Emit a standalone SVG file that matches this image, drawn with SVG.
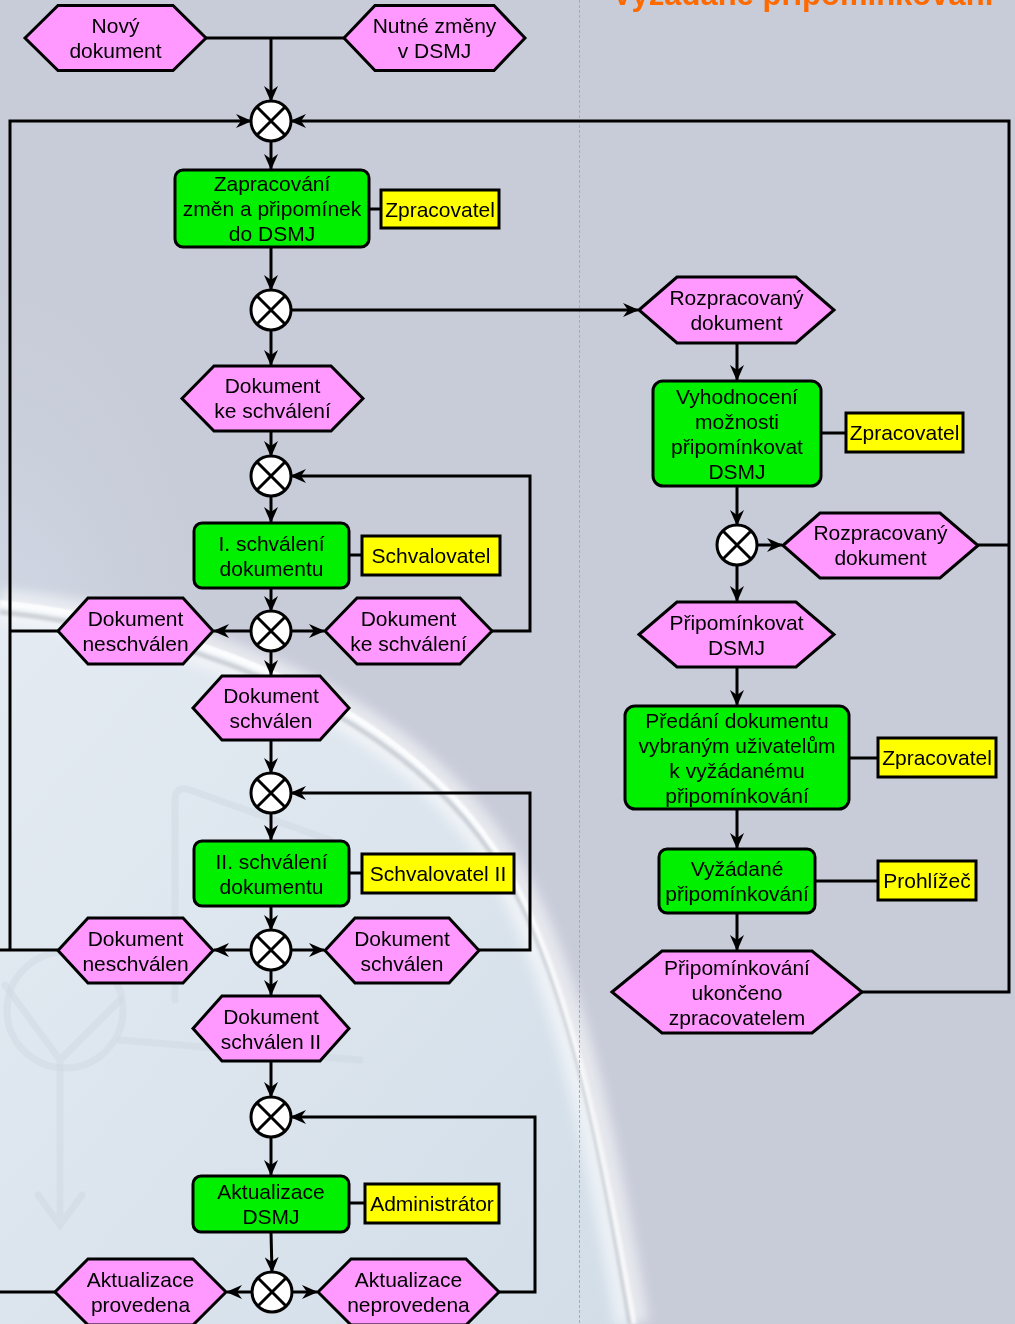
<svg xmlns="http://www.w3.org/2000/svg" width="1015" height="1324" viewBox="0 0 1015 1324">
  <defs>
    <style>
      .proc { fill: #00f000; stroke: #000; stroke-width: 3; }
      .ev { fill: #ff99ff; stroke: #000; stroke-width: 3; stroke-linejoin: miter; }
      .role { fill: #ffff00; stroke: #000; stroke-width: 3; }
      .xor circle { fill: #fff; stroke: #000; stroke-width: 3; }
      .xor path { stroke: #000; stroke-width: 3; fill: none; }
      .lbl { font-family: "Liberation Sans", Arial, sans-serif; font-size: 21px; fill: #000; text-anchor: middle; }
      .edge { fill: none; stroke: #000; stroke-width: 3; stroke-linejoin: miter; }
      .arr { marker-end: url(#ah); }
      .deco { fill: none; stroke: #b9c3cd; stroke-width: 7; opacity: 0.45; stroke-linecap: round; }
    </style>
    <marker id="ah" viewBox="0 0 16 14" refX="15" refY="7" markerWidth="16" markerHeight="14" markerUnits="userSpaceOnUse" orient="auto">
      <path d="M0,0 L16,7 L0,14 L5,7 Z" fill="#000"/>
    </marker>
    <linearGradient id="globeFill" x1="0" y1="0" x2="1" y2="1">
      <stop offset="0" stop-color="#e4ebf2"/>
      <stop offset="0.55" stop-color="#dbe4ed"/>
      <stop offset="1" stop-color="#d2dde8"/>
    </linearGradient>
    <radialGradient id="leftGlow" cx="0" cy="0.55" r="0.6">
      <stop offset="0" stop-color="#d7e1ec" stop-opacity="0.9"/>
      <stop offset="1" stop-color="#c8ccd9" stop-opacity="0"/>
    </radialGradient>
    <filter id="soft" x="-20%" y="-20%" width="140%" height="140%">
      <feGaussianBlur stdDeviation="6"/>
    </filter>
    <filter id="soft2" x="-20%" y="-20%" width="140%" height="140%">
      <feGaussianBlur stdDeviation="1.5"/>
    </filter>
  </defs>

  <!-- backdrop: grey-blue page with a pale globe in the lower left -->
  <rect x="0" y="0" width="1015" height="1324" fill="#c8ccd9"/>
  <rect x="0" y="250" width="420" height="900" fill="url(#leftGlow)"/>
  <path d="M0,600 C230,625 430,720 515,880 C575,995 605,1160 630,1324 L0,1324 Z" fill="url(#globeFill)"/>
  <path d="M0,606 C230,631 430,726 515,886 C575,1001 605,1166 632,1324" fill="none" stroke="#ffffff" stroke-width="34" opacity="0.55" filter="url(#soft)"/>
  <path d="M0,612 C230,637 430,732 515,892 C575,1007 605,1172 630,1324" fill="none" stroke="#a9afb8" stroke-width="5" opacity="0.5" filter="url(#soft2)"/>
  <path d="M0,603 C230,628 430,723 515,883 C575,998 605,1163 634,1324" fill="none" stroke="#ffffff" stroke-width="5" opacity="0.8" filter="url(#soft2)"/>
  <g opacity="0.4">
    <circle class="deco" cx="65" cy="1010" r="58"/>
    <path class="deco" d="M5,985 L60,1060 L120,1000 M60,1060 L60,1225 M38,1195 L60,1225 L82,1195"/>
    <path class="deco" d="M175,1000 L175,800 Q175,785 190,790 L330,840"/>
    <path class="deco" d="M120,1040 L360,1060"/>
  </g>

  <!-- swimlane divider and heading -->
  <line x1="579.5" y1="0" x2="579.5" y2="1324" stroke="#e89a60" stroke-width="1" stroke-dasharray="3,2"/>
  <text x="612" y="5" font-family="'Liberation Sans', Arial, sans-serif" font-size="31" font-weight="bold" fill="#ff6a00">Vyžádané připomínkování</text>

  <!-- connectors -->
  <g id="connectors">
    <path class="edge" d="M206,38 L344,38"/>
    <path class="edge arr" d="M271,38 L271,101"/>
    <path class="edge arr" d="M271,141 L271,169"/>
    <path class="edge arr" d="M271,247 L271,290"/>
    <path class="edge arr" d="M291,310 L638,310"/>
    <path class="edge arr" d="M271,330 L271,365"/>
    <path class="edge arr" d="M271,431 L271,456"/>
    <path class="edge arr" d="M271,496 L271,522"/>
    <path class="edge arr" d="M271,588 L271,611"/>
    <path class="edge arr" d="M251,631 L214,631"/>
    <path class="edge arr" d="M291,631 L324,631"/>
    <path class="edge arr" d="M492,631 L530,631 L530,476 L291,476"/>
    <path class="edge arr" d="M271,651 L271,675"/>
    <path class="edge arr" d="M271,740 L271,773"/>
    <path class="edge arr" d="M271,813 L271,840"/>
    <path class="edge arr" d="M271,906 L271,930"/>
    <path class="edge arr" d="M251,950 L214,950"/>
    <path class="edge arr" d="M291,950 L324,950"/>
    <path class="edge arr" d="M479,950 L530,950 L530,793 L291,793"/>
    <path class="edge arr" d="M271,970 L271,995"/>
    <path class="edge arr" d="M271,1061 L271,1097"/>
    <path class="edge arr" d="M271,1137 L271,1175"/>
    <path class="edge arr" d="M271,1232 L272,1272"/>
    <path class="edge arr" d="M252,1292 L227,1292"/>
    <path class="edge arr" d="M292,1292 L317,1292"/>
    <path class="edge arr" d="M499,1292 L535,1292 L535,1117 L291,1117"/>
    <path class="edge" d="M55,1292 L0,1292"/>
    <path class="edge" d="M58,631 L10,631"/>
    <path class="edge arr" d="M58,950 L0,950 M10,950 L10,121 L251,121"/>
    <path class="edge arr" d="M737,343 L737,380"/>
    <path class="edge arr" d="M737,486 L737,525"/>
    <path class="edge arr" d="M757,545 L782,545"/>
    <path class="edge arr" d="M737,565 L737,601"/>
    <path class="edge arr" d="M737,667 L737,705"/>
    <path class="edge arr" d="M737,809 L737,848"/>
    <path class="edge arr" d="M737,913 L737,950"/>
    <path class="edge" d="M978,545 L1009,545"/>
    <path class="edge arr" d="M862,992 L1009,992 L1009,121 L291,121"/>
    <!-- role assignments -->
    <path class="edge" d="M369,209 L381,209"/>
    <path class="edge" d="M349,555 L362,555"/>
    <path class="edge" d="M349,873 L362,873"/>
    <path class="edge" d="M349,1203 L365,1203"/>
    <path class="edge" d="M821,433 L846,433"/>
    <path class="edge" d="M849,758 L878,758"/>
    <path class="edge" d="M815,881 L878,881"/>
  </g>

  <!-- events -->
  <g id="ev-novy"><polygon class="ev" points="25,38 58,5.5 173,5.5 206,38 173,70.5 58,70.5"/><text class="lbl" x="115.5" y="33">Nový</text><text class="lbl" x="115.5" y="58">dokument</text></g>
  <g id="ev-nutne"><polygon class="ev" points="344,38 375,5.5 494,5.5 525,38 494,70.5 375,70.5"/><text class="lbl" x="434.5" y="33">Nutné změny</text><text class="lbl" x="434.5" y="58">v DSMJ</text></g>
  <g id="ev-rozpr1"><polygon class="ev" points="639,310 677,277 796,277 834,310 796,343 677,343"/><text class="lbl" x="736.5" y="305">Rozpracovaný</text><text class="lbl" x="736.5" y="330">dokument</text></g>
  <g id="ev-ke-schvaleni1"><polygon class="ev" points="182,398.5 214,366 331,366 363,398.5 331,431 214,431"/><text class="lbl" x="272.5" y="393">Dokument</text><text class="lbl" x="272.5" y="418">ke schválení</text></g>
  <g id="ev-neschvalen1"><polygon class="ev" points="58,631 88,598 183,598 213,631 183,664 88,664"/><text class="lbl" x="135.5" y="626">Dokument</text><text class="lbl" x="135.5" y="651">neschválen</text></g>
  <g id="ev-ke-schvaleni2"><polygon class="ev" points="325,631 357,598 460,598 492,631 460,664 357,664"/><text class="lbl" x="408.5" y="626">Dokument</text><text class="lbl" x="408.5" y="651">ke schválení</text></g>
  <g id="ev-rozpr2"><polygon class="ev" points="783,545.5 820,513 940,513 978,545.5 940,578 820,578"/><text class="lbl" x="880.5" y="540">Rozpracovaný</text><text class="lbl" x="880.5" y="565">dokument</text></g>
  <g id="ev-pripominkovat"><polygon class="ev" points="639,634.5 677,602 796,602 834,634.5 796,667 677,667"/><text class="lbl" x="736.5" y="629.5">Připomínkovat</text><text class="lbl" x="736.5" y="654.5">DSMJ</text></g>
  <g id="ev-schvalen1"><polygon class="ev" points="193,708 222,676 320,676 349,708 320,740 222,740"/><text class="lbl" x="271" y="703">Dokument</text><text class="lbl" x="271" y="728">schválen</text></g>
  <g id="ev-neschvalen2"><polygon class="ev" points="58,950.5 88,918 183,918 213,950.5 183,983 88,983"/><text class="lbl" x="135.5" y="945.5">Dokument</text><text class="lbl" x="135.5" y="970.5">neschválen</text></g>
  <g id="ev-schvalen2"><polygon class="ev" points="325,950.5 355,918 449,918 479,950.5 449,983 355,983"/><text class="lbl" x="402" y="945.5">Dokument</text><text class="lbl" x="402" y="970.5">schválen</text></g>
  <g id="ev-schvalen-ii"><polygon class="ev" points="193,1028.5 222,996 320,996 349,1028.5 320,1061 222,1061"/><text class="lbl" x="271" y="1023.5">Dokument</text><text class="lbl" x="271" y="1048.5">schválen II</text></g>
  <g id="ev-provedena"><polygon class="ev" points="55,1292 88,1259 193,1259 226,1292 193,1325 88,1325"/><text class="lbl" x="140.5" y="1287">Aktualizace</text><text class="lbl" x="140.5" y="1312">provedena</text></g>
  <g id="ev-neprovedena"><polygon class="ev" points="318,1292 351,1259 466,1259 499,1292 466,1325 351,1325"/><text class="lbl" x="408.5" y="1287">Aktualizace</text><text class="lbl" x="408.5" y="1312">neprovedena</text></g>
  <g id="ev-ukonceno"><polygon class="ev" points="612,992 662,951 812,951 862,992 812,1033 662,1033"/><text class="lbl" x="737" y="974.5">Připomínkování</text><text class="lbl" x="737" y="999.5">ukončeno</text><text class="lbl" x="737" y="1024.5">zpracovatelem</text></g>

  <!-- functions -->
  <g id="fn-zapracovani"><rect class="proc" x="175" y="170" width="194" height="77" rx="8"/><text class="lbl" x="272" y="191">Zapracování</text><text class="lbl" x="272" y="216">změn a připomínek</text><text class="lbl" x="272" y="241">do DSMJ</text></g>
  <g id="fn-schvaleni1"><rect class="proc" x="194" y="523" width="155" height="65" rx="8"/><text class="lbl" x="271.5" y="550.5">I. schválení</text><text class="lbl" x="271.5" y="575.5">dokumentu</text></g>
  <g id="fn-schvaleni2"><rect class="proc" x="194" y="841" width="155" height="65" rx="8"/><text class="lbl" x="271.5" y="868.5">II. schválení</text><text class="lbl" x="271.5" y="893.5">dokumentu</text></g>
  <g id="fn-aktualizace"><rect class="proc" x="193" y="1176" width="156" height="56" rx="8"/><text class="lbl" x="271" y="1199">Aktualizace</text><text class="lbl" x="271" y="1224">DSMJ</text></g>
  <g id="fn-vyhodnoceni"><rect class="proc" x="653" y="381" width="168" height="105" rx="10"/><text class="lbl" x="737" y="403.5">Vyhodnocení</text><text class="lbl" x="737" y="428.5">možnosti</text><text class="lbl" x="737" y="453.5">připomínkovat</text><text class="lbl" x="737" y="478.5">DSMJ</text></g>
  <g id="fn-predani"><rect class="proc" x="625" y="706" width="224" height="103" rx="10"/><text class="lbl" x="737" y="727.5">Předání dokumentu</text><text class="lbl" x="737" y="752.5">vybraným uživatelům</text><text class="lbl" x="737" y="777.5">k vyžádanému</text><text class="lbl" x="737" y="802.5">připomínkování</text></g>
  <g id="fn-vyzadane"><rect class="proc" x="659" y="849" width="156" height="64" rx="8"/><text class="lbl" x="737" y="876">Vyžádané</text><text class="lbl" x="737" y="901">připomínkování</text></g>

  <!-- roles -->
  <g id="role-zpracovatel1"><rect class="role" x="381" y="190" width="118" height="38"/><text class="lbl" x="440" y="216.5">Zpracovatel</text></g>
  <g id="role-schvalovatel"><rect class="role" x="362" y="536" width="138" height="39"/><text class="lbl" x="431" y="563">Schvalovatel</text></g>
  <g id="role-schvalovatel2"><rect class="role" x="362" y="854" width="152" height="39"/><text class="lbl" x="438" y="881">Schvalovatel II</text></g>
  <g id="role-administrator"><rect class="role" x="365" y="1184" width="134" height="39"/><text class="lbl" x="432" y="1211">Administrátor</text></g>
  <g id="role-zpracovatel2"><rect class="role" x="846" y="413" width="117" height="39"/><text class="lbl" x="904.5" y="440">Zpracovatel</text></g>
  <g id="role-zpracovatel3"><rect class="role" x="878" y="738" width="118" height="39"/><text class="lbl" x="937" y="765">Zpracovatel</text></g>
  <g id="role-prohlizec"><rect class="role" x="878" y="861" width="98" height="39"/><text class="lbl" x="927" y="888">Prohlížeč</text></g>

  <!-- XOR connectors -->
  <g id="xor1" class="xor"><circle cx="271" cy="121" r="20"/><path d="M257,107 L285,135 M285,107 L257,135"/></g>
  <g id="xor2" class="xor"><circle cx="271" cy="310" r="20"/><path d="M257,296 L285,324 M285,296 L257,324"/></g>
  <g id="xor3" class="xor"><circle cx="271" cy="476" r="20"/><path d="M257,462 L285,490 M285,462 L257,490"/></g>
  <g id="xor4" class="xor"><circle cx="271" cy="631" r="20"/><path d="M257,617 L285,645 M285,617 L257,645"/></g>
  <g id="xor5" class="xor"><circle cx="271" cy="793" r="20"/><path d="M257,779 L285,807 M285,779 L257,807"/></g>
  <g id="xor6" class="xor"><circle cx="271" cy="950" r="20"/><path d="M257,936 L285,964 M285,936 L257,964"/></g>
  <g id="xor7" class="xor"><circle cx="271" cy="1117" r="20"/><path d="M257,1103 L285,1131 M285,1103 L257,1131"/></g>
  <g id="xor8" class="xor"><circle cx="272" cy="1292" r="20"/><path d="M258,1278 L286,1306 M286,1278 L258,1306"/></g>
  <g id="xor9" class="xor"><circle cx="737" cy="545" r="20"/><path d="M723,531 L751,559 M751,531 L723,559"/></g>
</svg>
